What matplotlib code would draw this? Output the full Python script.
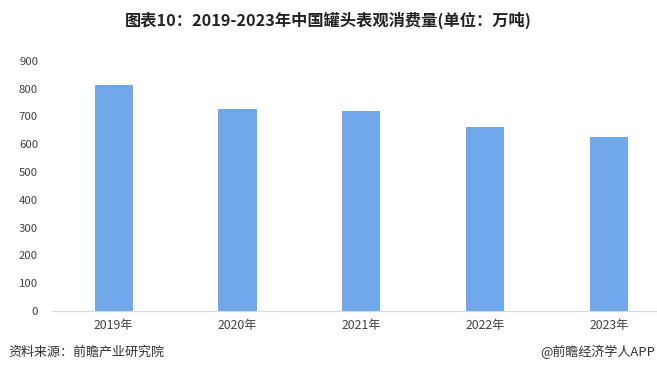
import matplotlib.pyplot as plt

plt.rcParams['font.family'] = ['Noto Sans CJK SC', 'DejaVu Sans']

# data
years = ['2019年', '2020年', '2021年', '2022年', '2023年']
consumption = [812, 726, 719, 663, 625]
y_ticks = [0, 100, 200, 300, 400, 500, 600, 700, 800, 900]

fig = plt.figure(figsize=(6.57, 3.85), dpi=100)
ax = fig.add_axes([0.079, 0.192, 0.921, 0.650])

x = range(len(years))
ax.bar(x, consumption, width=0.31, color='#71a7eb')

ax.set_xlim(-0.5, 4.39)
ax.set_ylim(0, 900)
ax.set_yticks(y_ticks)
ax.set_xticks(list(x))
ax.set_xticklabels(years)
ax.tick_params(axis='both', length=0, colors='#404040')
ax.tick_params(axis='y', pad=10, labelsize=8.2)
ax.tick_params(axis='x', pad=6, labelsize=8.8)

for side in ['top', 'right', 'left']:
    ax.spines[side].set_visible(False)
ax.spines['bottom'].set_color('#d9d9d9')

fig.text(0.5, 0.948, '图表10：2019-2023年中国罐头表观消费量(单位：万吨)',
         ha='center', va='center', fontsize=11.7, fontweight='bold', color='#222222')
fig.text(0.012, 0.085, '资料来源：前瞻产业研究院', ha='left', va='center',
         fontsize=9.4, color='#333333')
fig.text(0.997, 0.085, '@前瞻经济学人APP', ha='right', va='center',
         fontsize=9.4, color='#333333')

fig.savefig('out.png', dpi=100)
